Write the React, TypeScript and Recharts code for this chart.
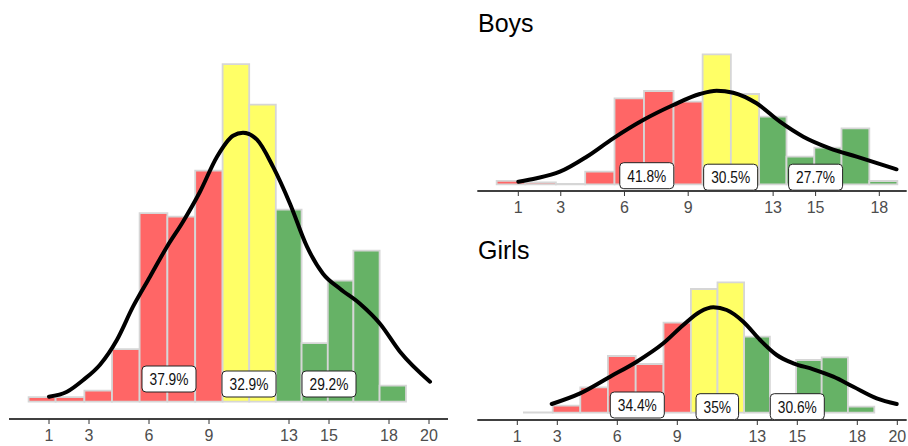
import React from 'react';
import { ComposedChart, Line, Scatter, XAxis, YAxis, ReferenceArea } from 'recharts';

// shared histogram bins (edges on the score axis)
const BIN_EDGES = [-0.02, 1.33, 2.77, 4.15, 5.53, 6.92, 8.31, 9.68, 11.01, 12.34, 13.63, 14.94, 16.22, 17.53, 18.85];
const BIN_GROUP = ['low', 'low', 'low', 'low', 'low', 'low', 'low', 'mid', 'mid', 'high', 'high', 'high', 'high', 'high'];

// bar heights
const ALL_COUNTS = [4.5, 4.5, 11, 52.5, 188.5, 185, 231, 337.5, 297, 192, 58.5, 121, 151, 16];
const BOYS_COUNTS = [3.5, 2, 0.4, 12.7, 86, 93.3, 82.7, 130, 90.3, 67.7, 27.7, 36.7, 56, 3.3];
const GIRLS_COUNTS = [null, 0.4, 7, 25.3, 56.7, 48.7, 90, 123.7, 130.3, 76, 0.4, 52.7, 55.3, 6];

// density curves
const ALL_DENS_X = [1, 1.9, 2.7, 3.55, 4.4, 5.2, 6.05, 6.9, 7.7, 8.55, 9.4, 10.2, 10.7, 11.4, 12.2, 13.05, 13.9, 14.7, 15.55, 16.55, 17.55, 18.55, 20.05];
const ALL_DENS_Y = [5, 10, 21.5, 37, 62, 95, 125, 155, 180, 210, 245, 266, 269, 262, 235, 198, 155, 128, 113, 98, 78, 50, 20];
const BOYS_DENS_X = [1.0, 1.86, 2.96, 4.22, 5.47, 6.88, 8.3, 9.55, 10.34, 11.12, 12.22, 13.32, 14.42, 15.67, 16.93, 18.81];
const BOYS_DENS_Y = [2.6, 6, 12.6, 27.6, 46, 64.3, 79.3, 90.3, 93.6, 91.6, 81, 62.6, 47.6, 36, 27.6, 15];
const GIRLS_DENS_X = [2.72, 4.14, 5.64, 6.97, 8.3, 9.3, 10.14, 10.8, 11.47, 12.3, 13.14, 13.97, 14.8, 15.8, 16.8, 17.8, 18.97, 19.97];
const GIRLS_DENS_Y = [8.7, 19.3, 36, 51, 69.4, 87.7, 101, 105.4, 102.7, 91, 72.7, 57.7, 49.4, 43.4, 36, 26, 14.4, 8.7];

// share labels
const ALL_LABEL_X = [7, 11, 15];
const ALL_LABEL_Y = [22.7, 17.7, 17.7];
const ALL_LABELS = ['37.9%', '32.9%', '29.2%'];
const BOYS_LABEL_X = [7.05, 11, 15];
const BOYS_LABEL_Y = [8.6, 7.1, 7.1];
const BOYS_LABELS = ['41.8%', '30.5%', '27.7%'];
const GIRLS_LABEL_X = [7, 11, 15];
const GIRLS_LABEL_Y = [7.7, 6, 6];
const GIRLS_LABELS = ['34.4%', '35%', '30.6%'];

const TICKS_FULL = [1, 3, 6, 9, 13, 15, 18, 20];
const TICKS_BOYS = [1, 3, 6, 9, 13, 15, 18];

const GROUP_COLORS: Record<string, string> = { low: '#FF6666', mid: '#FFFF66', high: '#66B266' };
const FONT = "'Liberation Sans', Arial, sans-serif";
const LABEL_SIZE = 16;

function textWidth(s: string, size: number) {
  let w = 0;
  for (const c of s) w += c === '%' ? 0.889 : c === '.' ? 0.278 : 0.556;
  return w * size * 0.86;
}

function LabelBox(props: any) {
  const { cx, cy, payload } = props;
  if (cx == null || cy == null) return null;
  const tw = textWidth(payload.text, LABEL_SIZE);
  const w = tw + 15;
  const h = 26;
  return (
    <g>
      <rect x={cx - w / 2} y={cy - h / 2} width={w} height={h} rx={4} ry={4} fill="#fff" stroke="#222" strokeWidth={1} />
      <text
        x={cx}
        y={cy + 6}
        textAnchor="middle"
        fontSize={LABEL_SIZE}
        fontFamily={FONT}
        fill="#111"
        textLength={tw}
        lengthAdjust="spacingAndGlyphs"
      >
        {payload.text}
      </text>
    </g>
  );
}

interface PanelProps {
  counts: (number | null)[];
  densX: number[];
  densY: number[];
  labelX: number[];
  labelY: number[];
  labels: string[];
  ticks: number[];
  xDomain: [number, number];
  yDomain: [number, number];
  width: number;
  height: number;
  margin: { top: number; right: number; bottom: number; left: number };
  axisHeight: number;
}

function Panel(p: PanelProps) {
  const dens = p.densX.map((x, i) => ({ x, y: p.densY[i] }));
  const labelData = p.labelX.map((x, i) => ({ x, y: p.labelY[i], text: p.labels[i] }));
  return (
    <ComposedChart width={p.width} height={p.height} margin={p.margin}>
      <XAxis
        type="number"
        dataKey="x"
        domain={p.xDomain}
        allowDataOverflow
        ticks={p.ticks}
        interval={0}
        height={p.axisHeight}
        tickSize={5}
        tickMargin={6}
        axisLine={{ stroke: '#000', strokeWidth: 1.5 }}
        tickLine={{ stroke: '#333', strokeWidth: 1 }}
        tick={{ fill: '#4d4d4d', fontSize: 16, fontFamily: FONT }}
      />
      <YAxis type="number" dataKey="y" domain={p.yDomain} allowDataOverflow hide />
      {p.counts.map((c, i) =>
        c == null ? null : (
          <ReferenceArea
            key={i}
            x1={BIN_EDGES[i]}
            x2={BIN_EDGES[i + 1]}
            y1={0}
            y2={c}
            fill={GROUP_COLORS[BIN_GROUP[i]]}
            fillOpacity={1}
            stroke="#D6D6D6"
            strokeWidth={1.8}
            ifOverflow="visible"
          />
        )
      )}
      <Line
        data={dens}
        dataKey="y"
        type="monotone"
        stroke="#000"
        strokeWidth={4}
        strokeLinecap="round"
        dot={false}
        activeDot={false}
        isAnimationActive={false}
      />
      <Scatter data={labelData} dataKey="y" shape={<LabelBox />} isAnimationActive={false} />
    </ComposedChart>
  );
}

const titleStyle: React.CSSProperties = {
  position: 'absolute',
  left: 478,
  fontFamily: FONT,
  fontSize: 25,
  lineHeight: '25px',
  color: '#000',
};

export default function App() {
  return (
    <div style={{ position: 'absolute', left: 0, top: 0, width: 908, height: 446, background: '#fff', overflow: 'hidden' }}>
      <div style={{ position: 'absolute', left: 0, top: 0 }}>
        <Panel
          counts={ALL_COUNTS}
          densX={ALL_DENS_X}
          densY={ALL_DENS_Y}
          labelX={ALL_LABEL_X}
          labelY={ALL_LABEL_Y}
          labels={ALL_LABELS}
          ticks={TICKS_FULL}
          xDomain={[-1.0, 20.95]}
          yDomain={[-17.3, 354.3]}
          width={460}
          height={446}
          margin={{ top: 47.4, right: 12, bottom: 0, left: 9 }}
          axisHeight={27}
        />
      </div>
      <div style={{ ...titleStyle, top: 10.5 }}>Boys</div>
      <div style={{ position: 'absolute', left: 470, top: 0 }}>
        <Panel
          counts={BOYS_COUNTS}
          densX={BOYS_DENS_X}
          densY={BOYS_DENS_Y}
          labelX={BOYS_LABEL_X}
          labelY={BOYS_LABEL_Y}
          labels={BOYS_LABELS}
          ticks={TICKS_BOYS}
          xDomain={[-0.931, 19.29]}
          yDomain={[-6.7, 137.3]}
          width={438}
          height={230}
          margin={{ top: 47, right: 1.3, bottom: 12, left: 7.3 }}
          axisHeight={27}
        />
      </div>
      <div style={{ ...titleStyle, top: 237.8 }}>Girls</div>
      <div style={{ position: 'absolute', left: 470, top: 230 }}>
        <Panel
          counts={GIRLS_COUNTS}
          densX={GIRLS_DENS_X}
          densY={GIRLS_DENS_Y}
          labelX={GIRLS_LABEL_X}
          labelY={GIRLS_LABEL_Y}
          labels={GIRLS_LABELS}
          ticks={TICKS_FULL}
          xDomain={[-1.0, 20.47]}
          yDomain={[-7.3, 137.2]}
          width={438}
          height={216}
          margin={{ top: 45.5, right: 1.3, bottom: 0, left: 7.3 }}
          axisHeight={26}
        />
      </div>
    </div>
  );
}
